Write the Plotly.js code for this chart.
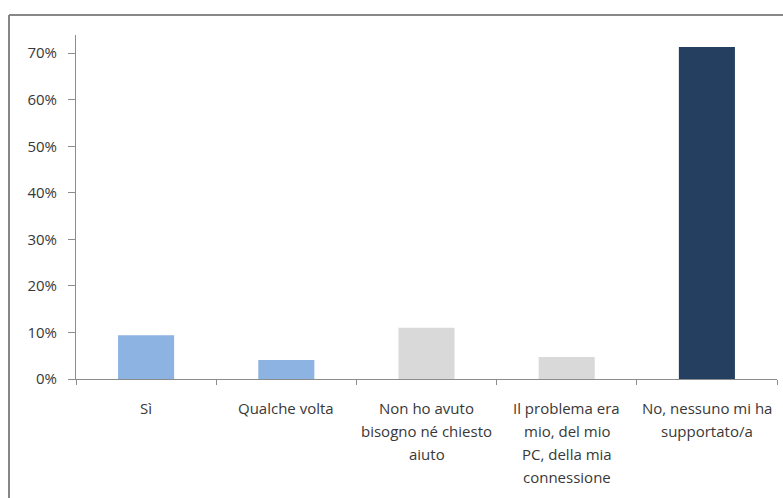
<!DOCTYPE html>
<html>
<head>
<meta charset="utf-8">
<script src="https://cdn.plot.ly/plotly-3.0.1.min.js"></script>
<style>html,body{margin:0;padding:0;background:#fff;}#chart{width:783px;height:498px;}</style>
</head>
<body>
<div id="chart"></div>
<script>
const categories = ["Sì", "Qualche volta", "Non ho avuto bisogno né chiesto aiuto", "Il problema era mio, del mio PC, della mia connessione", "No, nessuno mi ha supportato/a"];
const labelLines = [
  ["Sì"],
  ["Qualche volta"],
  ["Non ho avuto", "bisogno né chiesto", "aiuto"],
  ["Il problema era", "mio, del mio", "PC, della mia", "connessione"],
  ["No, nessuno mi ha", "supportato/a"]
];
const values = [0.094, 0.041, 0.11, 0.047, 0.713];
const barColors = ["#8DB3E2", "#8DB3E2", "#D9D9D9", "#D9D9D9", "#243F60"];
const yTickVals = [0, 0.1, 0.2, 0.3, 0.4, 0.5, 0.6, 0.7];
const yTickText = ["0%", "10%", "20%", "30%", "40%", "50%", "60%", "70%"];

const fontFam = "'Open Sans', sans-serif";
const txtColor = "#383838";
const plotH = 344;
const annotations = [];
labelLines.forEach((lines, i) => {
  lines.forEach((ln, j) => {
    annotations.push({
      x: categories[i], xref: "x",
      y: (-29 - 23 * j) / plotH, yref: "paper",
      yanchor: "middle", xanchor: "center",
      text: ln, showarrow: false,
      font: {family: fontFam, size: 15, color: txtColor}
    });
  });
});

const trace = {
  type: "bar",
  x: categories,
  y: values,
  marker: {color: barColors, line: {width: 0}},
  hoverinfo: "skip"
};

const layout = {
  width: 783, height: 498,
  margin: {l: 76, r: 6, t: 35, b: 119},
  paper_bgcolor: "#fff", plot_bgcolor: "#fff",
  bargap: 0.6,
  showlegend: false,
  xaxis: {
    type: "category",
    showticklabels: false,
    showline: true, linecolor: "#8c8c8c", linewidth: 1,
    ticks: "outside", tickson: "boundaries", ticklen: 5, tickcolor: "#8c8c8c",
    showgrid: false, zeroline: false, fixedrange: true
  },
  yaxis: {
    range: [0, 0.739],
    tickvals: yTickVals, ticktext: yTickText,
    showline: true, linecolor: "#8c8c8c", linewidth: 1,
    ticks: "outside", ticklen: 7, tickcolor: "#8c8c8c",
    ticklabelstandoff: 8,
    showgrid: false, zeroline: false,
    tickfont: {family: fontFam, size: 15, color: txtColor},
    fixedrange: true
  },
  annotations: annotations,
  shapes: [
    {type: "line", xref: "paper", yref: "paper", x0: (9 - 76) / 701, x1: 1.02, y0: 1 + 20 / plotH, y1: 1 + 20 / plotH, line: {color: "#878787", width: 2}},
    {type: "line", xref: "paper", yref: "paper", x0: (9 - 76) / 701, x1: (9 - 76) / 701, y0: 1 + 20 / plotH, y1: -0.4, line: {color: "#878787", width: 2}}
  ]
};

Plotly.newPlot("chart", [trace], layout, {displayModeBar: false, staticPlot: true});
</script>
</body>
</html>
